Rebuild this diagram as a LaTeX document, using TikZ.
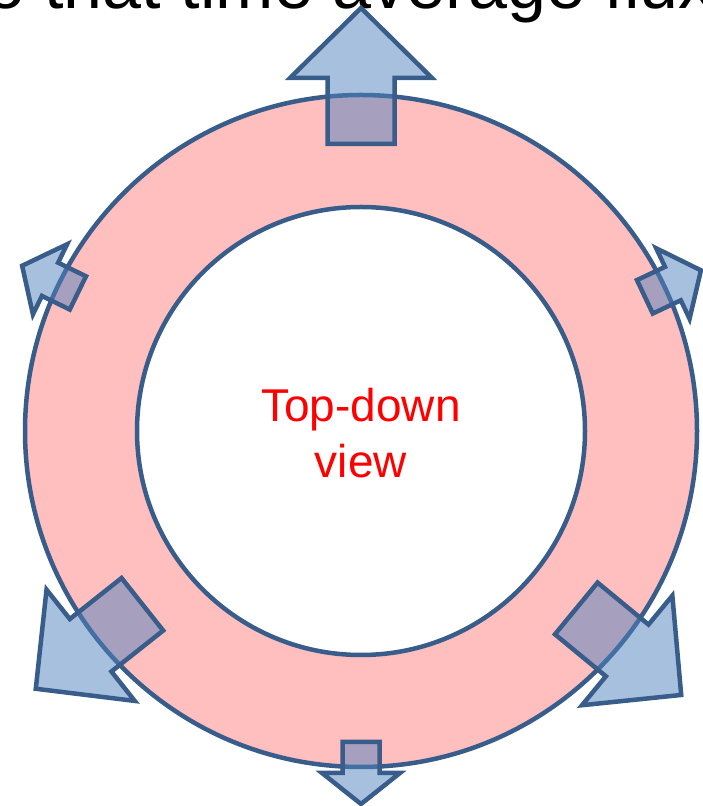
\documentclass[tikz,border=0pt]{standalone}
\usepackage{fontspec}
\setmainfont{Liberation Sans}
\definecolor{ringline}{HTML}{385D8A}
\definecolor{ringfill}{HTML}{FFBFBF}
\definecolor{flowfill}{HTML}{4F81BD}
\tikzset{ring/.style={draw=ringline, line width=4.5pt, fill=ringfill, even odd rule},
  flow/.style={draw=ringline, line width=4.5pt, miter limit=4, fill=flowfill, fill opacity=0.5}}

\begin{document}
\begin{tikzpicture}[x=1pt,y=1pt]
  \useasboundingbox (0,0) rectangle (703,806);
  \clip (0,0) rectangle (703,806);
  % caption line, cut off at the top
  \node[anchor=base west, inner sep=0, font=\fontsize{70}{84}\selectfont] (caption) at (-49,797) {so that time average flux};
  % ring
  \coordinate (c) at (361,375);
  \draw[ring] (c) circle[radius=336] (c) circle[radius=224];
  % big arrows
  \foreach \a/\r in {90/287,218.4/279,320.5/279}
    \draw[flow, shift={(c)}, rotate=\a, xshift=\r] (0,-33.5) -- (66,-33.5) -- (66,-71) -- (136,0) -- (66,71) -- (66,33.5) -- (0,33.5) -- cycle;
  % small arrows
  \foreach \a/\r in {25.3/314,154/315,270/311}
    \draw[flow, shift={(c)}, rotate=\a, xshift=\r] (0,-18.5) -- (31,-18.5) -- (31,-39) -- (62,0) -- (31,39) -- (31,18.5) -- (0,18.5) -- cycle;
  \node[text=red, align=center, font=\fontsize{46}{56}\selectfont] (label) at (361,373) {Top-down\\view};
\end{tikzpicture}
\end{document}
